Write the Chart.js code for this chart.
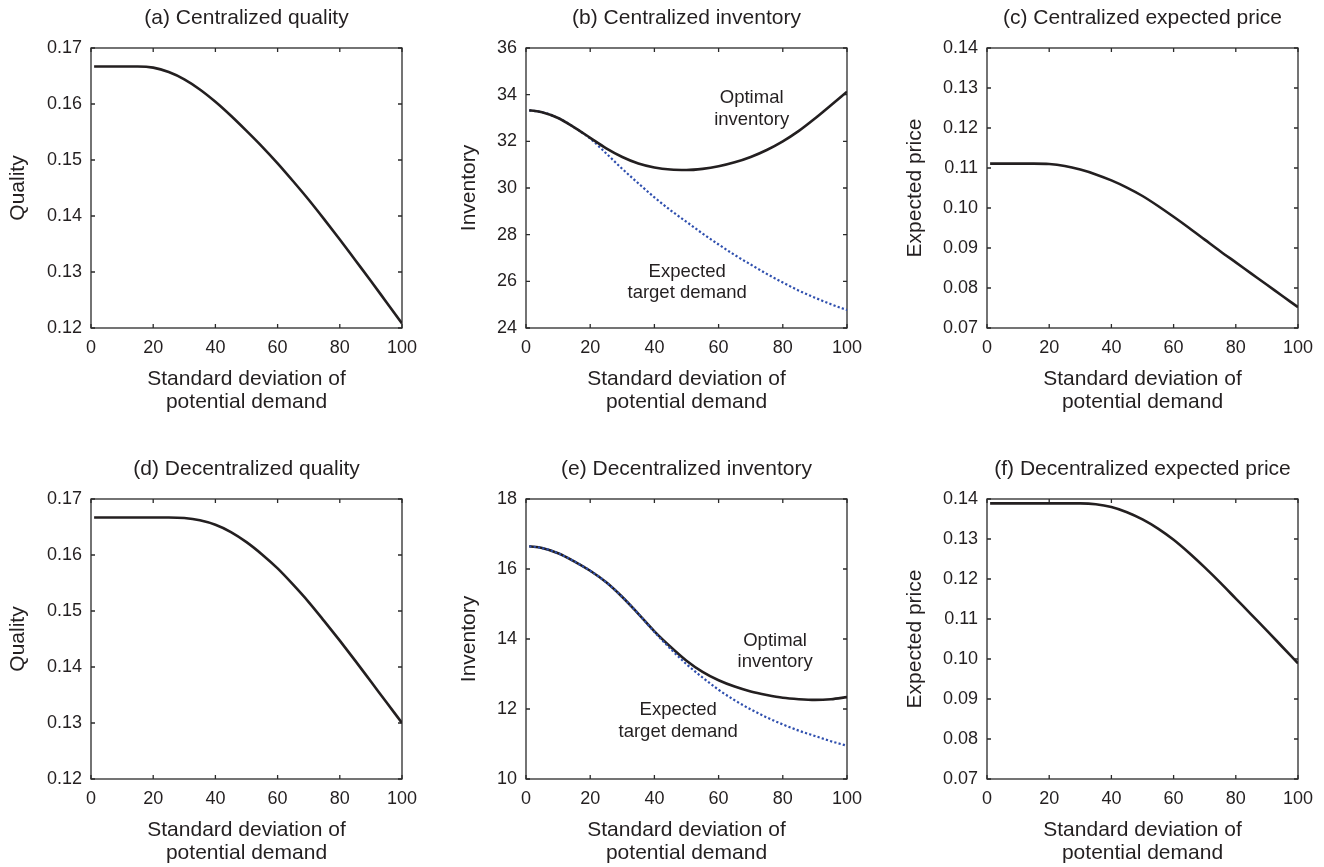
<!DOCTYPE html>
<html><head><meta charset="utf-8">
<script src="https://cdn.jsdelivr.net/npm/chart.js@4.4.1/dist/chart.umd.min.js"></script>
<style>
html,body{margin:0;padding:0;background:#fff;overflow:hidden;width:1324px;height:867px;}
canvas{position:absolute;}
</style></head><body>
<canvas id="pa" width="440" height="430" style="left:0px;top:0px"></canvas>
<canvas id="pb" width="440" height="430" style="left:440px;top:0px"></canvas>
<canvas id="pc" width="444" height="430" style="left:880px;top:0px"></canvas>
<canvas id="pd" width="440" height="430" style="left:0px;top:451px"></canvas>
<canvas id="pe" width="440" height="430" style="left:440px;top:451px"></canvas>
<canvas id="pf" width="444" height="430" style="left:880px;top:451px"></canvas>
<script>
// ---------- data ----------
const sd = [1,5,10,15,20,25,30,35,40,45,50,55,60,65,70,75,80,85,90,95,100];
const qualityCentral = [0.1667,0.1667,0.1667,0.1667,0.1665,0.1657,0.1644,0.1626,0.1604,0.1579,0.1552,0.1524,0.1494,0.1462,0.1429,0.1394,0.1358,0.1321,0.1284,0.1246,0.1208];
const invCentralOptimal = [33.33,33.25,33.0,32.6,32.15,31.7,31.33,31.05,30.88,30.79,30.77,30.82,30.93,31.1,31.33,31.63,32.0,32.45,32.98,33.55,34.13];
const invCentralDemand = [33.33,33.25,33.0,32.6,32.12,31.48,30.82,30.2,29.6,29.05,28.55,28.05,27.58,27.13,26.72,26.32,25.95,25.6,25.3,25.02,24.77];
const priceCentral = [0.1111,0.1111,0.1111,0.1111,0.1110,0.1105,0.1096,0.1084,0.1069,0.1051,0.1030,0.1005,0.0978,0.0950,0.0921,0.0892,0.0864,0.0836,0.0808,0.0780,0.0752];
const qualityDecentral = [0.1667,0.1667,0.1667,0.1667,0.1667,0.1667,0.1666,0.1662,0.1654,0.1641,0.1623,0.1601,0.1576,0.1547,0.1516,0.1482,0.1447,0.1411,0.1374,0.1337,0.1300];
const invDecentralOptimal = [16.65,16.6,16.45,16.22,15.95,15.62,15.2,14.72,14.22,13.78,13.38,13.06,12.82,12.64,12.5,12.4,12.32,12.28,12.26,12.28,12.34];
const invDecentralDemand = [16.65,16.6,16.45,16.22,15.95,15.62,15.2,14.72,14.2,13.72,13.28,12.9,12.55,12.25,11.99,11.76,11.56,11.38,11.23,11.08,10.95];
const priceDecentral = [0.1389,0.1389,0.1389,0.1389,0.1389,0.1389,0.1389,0.1387,0.1380,0.1367,0.1349,0.1326,0.1298,0.1265,0.1229,0.1191,0.1151,0.1111,0.1071,0.1030,0.0989];

const panelTitles = ['(a) Centralized quality','(b) Centralized inventory','(c) Centralized expected price','(d) Decentralized quality','(e) Decentralized inventory','(f) Decentralized expected price'];
const yTitles = ['Quality','Inventory','Expected price','Quality','Inventory','Expected price'];
const xTitle = ['Standard deviation of','potential demand'];
const xTicks = {min:0, max:100, step:20};
const yRanges = [[0.12,0.17,0.01],[24,36,2],[0.07,0.14,0.01],[0.12,0.17,0.01],[10,18,2],[0.07,0.14,0.01]];
const optimalLabel = ['Optimal','inventory'];
const demandLabel = ['Expected','target demand'];
// label anchors in data units [sd, value]
const labelPosB = {optimal:[70.3,33.39], demand:[50.2,25.95]};
const labelPosE = {optimal:[77.6,13.64], demand:[47.4,11.66]};

// ---------- style ----------
const INK = '#231f20';
const BLUE = '#2f4fae';
const FONT = "'Liberation Sans', Arial, Helvetica, sans-serif";

const pts = arr => sd.map((x,i)=>({x, y: arr[i]}));

const framePlugin = {
  id:'frame',
  beforeDatasetsDraw(chart){
    const {ctx, chartArea:a, scales} = chart;
    ctx.save();
    ctx.strokeStyle = '#2a2a2a';
    ctx.lineWidth = 1.3;
    ctx.strokeRect(a.left, a.top, a.right-a.left, a.bottom-a.top);
    const L = 4;
    ctx.beginPath();
    scales.x.ticks.forEach(t=>{
      const p = scales.x.getPixelForValue(t.value);
      ctx.moveTo(p, a.bottom); ctx.lineTo(p, a.bottom-L);
      ctx.moveTo(p, a.top); ctx.lineTo(p, a.top+L);
    });
    scales.y.ticks.forEach(t=>{
      const p = scales.y.getPixelForValue(t.value);
      ctx.moveTo(a.left, p); ctx.lineTo(a.left+L, p);
      ctx.moveTo(a.right, p); ctx.lineTo(a.right-L, p);
    });
    ctx.stroke();
    ctx.restore();
  },
  afterDraw(chart, args, opts){
    const {ctx, chartArea:a, scales} = chart;
    ctx.save();
    ctx.fillStyle = INK;
    ctx.textAlign = 'center';
    ctx.textBaseline = 'middle';
    ctx.font = '21px ' + FONT;
    ctx.fillText(opts.title, (a.left+a.right)/2, a.top-30);
    if (opts.labels){
      ctx.font = '18.5px ' + FONT;
      opts.labels.forEach(lb=>{
        const px = scales.x.getPixelForValue(lb.pos[0]);
        const py = scales.y.getPixelForValue(lb.pos[1]);
        ctx.fillText(lb.text[0], px, py-10.8);
        ctx.fillText(lb.text[1], px, py+10.8);
      });
    }
    ctx.restore();
  }
};

const ids = ['pa','pb','pc','pd','pe','pf'];
const leftW = [91,86,107,91,86,107];
const rightPad = [38,33,26,38,33,26];

function makeDatasets(i){
  const black = (arr, order)=>({data:pts(arr), borderColor:INK, borderWidth:2.6, pointRadius:0, cubicInterpolationMode:'monotone', fill:false, order});
  const dotted = (arr, order)=>({data:pts(arr), borderColor:BLUE, borderWidth:2.2, borderDash:[2.2,2.2], pointRadius:0, cubicInterpolationMode:'monotone', fill:false, order});
  switch(i){
    case 0: return [black(qualityCentral,0)];
    case 1: return [black(invCentralOptimal,0), dotted(invCentralDemand,1)];
    case 2: return [black(priceCentral,0)];
    case 3: return [black(qualityDecentral,0)];
    case 4: return [black(invDecentralOptimal,1), dotted(invDecentralDemand,0)];
    case 5: return [black(priceDecentral,0)];
  }
}

ids.forEach((id,i)=>{
  const [ymin,ymax,ystep] = yRanges[i];
  const dec = ystep < 1 ? 2 : 0;
  let labels = null;
  if (i===1) labels = [{text:optimalLabel,pos:labelPosB.optimal},{text:demandLabel,pos:labelPosB.demand}];
  if (i===4) labels = [{text:optimalLabel,pos:labelPosE.optimal},{text:demandLabel,pos:labelPosE.demand}];
  new Chart(document.getElementById(id), {
    type:'line',
    data:{datasets: makeDatasets(i)},
    options:{
      responsive:false, animation:false, devicePixelRatio:1,
      layout:{padding:{top:48, right:rightPad[i], left:0, bottom:0}},
      plugins:{legend:{display:false}, tooltip:{enabled:false}, frame:{title:panelTitles[i], labels}},
      scales:{
        x:{type:'linear', min:xTicks.min, max:xTicks.max,
          grid:{display:false, drawTicks:false}, border:{display:false},
          ticks:{stepSize:xTicks.step, padding:9, color:INK, font:{family:FONT,size:18}, maxRotation:0},
          title:{display:true, text:xTitle, color:INK, font:{family:FONT,size:21,lineHeight:1.1}, padding:{top:0,bottom:16.5}},
          afterFit: s=>{ s.height = 102; }
        },
        y:{type:'linear', min:ymin, max:ymax,
          grid:{display:false, drawTicks:false}, border:{display:false},
          ticks:{stepSize:ystep, padding:9, color:INK, font:{family:FONT,size:18}, callback:v=>Number(v).toFixed(dec)},
          title:{display:true, text:yTitles[i], color:INK, font:{family:FONT,size:21,lineHeight:1.15}, padding:{top:[6,17,23,6,17,23][i],bottom:0}},
          afterFit: s=>{ s.width = leftW[i]; }
        }
      }
    },
    plugins:[framePlugin]
  });
});
</script>
</body></html>
